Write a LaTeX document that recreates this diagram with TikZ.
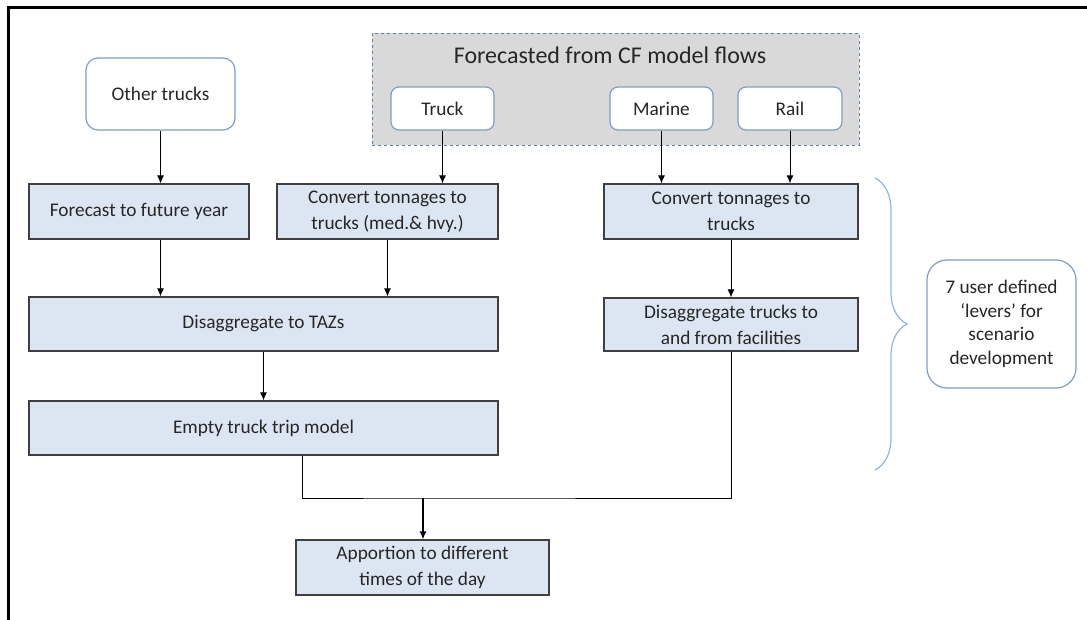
\documentclass[tikz,border=0pt]{standalone}
\usepackage{fontspec}
\setmainfont{Carlito}
\usepackage{xcolor}
\usepackage{tikz}
\usetikzlibrary{arrows, arrows.meta, positioning, decorations.pathreplacing}
\definecolor{boxblue}{HTML}{DCE6F2}
\definecolor{edgeblue}{HTML}{7F9DC5}
\definecolor{panelgray}{HTML}{D9D9D9}
\definecolor{dashblue}{HTML}{5A7FAE}
\definecolor{braceblue}{HTML}{8EB4E3}
\definecolor{inkdark}{HTML}{262626}
\tikzset{
  stepbox/.style={draw=black!75, line width=1.2pt, fill=boxblue, text=inkdark, align=center, inner sep=0pt, font=\fontsize{19.3}{26}\selectfont},
  srcbox/.style={draw=edgeblue, line width=1.2pt, fill=white, text=inkdark, rounded corners=8pt, align=center, inner sep=0pt, font=\fontsize{19.3}{23.5}\selectfont},
  flow/.style={->, line width=1pt, black}
}
\begin{document}
\begin{tikzpicture}[x=1pt, y=-1pt, >={Latex[length=8pt, width=7pt]}]
        \useasboundingbox (0,0) rectangle (1087,620);
        \draw [line width=3pt] (8.5,620) -- (8.5,7.5) -- (1087,7.5);

        % inputs
        \node (panel) [draw=dashblue, dashed, fill=panelgray, minimum width=487pt, minimum height=112pt, inner sep=0pt] at (615.5,89) {};
        \node (title) [text=inkdark, font=\fontsize{24}{28}\selectfont] at (610,55) {Forecasted from CF model flows};
        \node (truck) [srcbox, minimum width=103pt, minimum height=43pt] at (442.5,108.5) {Truck};
        \node (marine) [srcbox, minimum width=103pt, minimum height=43pt] at (661.5,108.5) {Marine};
        \node (rail) [srcbox, minimum width=104pt, minimum height=43pt] at (790,108.5) {Rail};
        \node (other) [srcbox, rounded corners=12pt, minimum width=149pt, minimum height=72pt] at (160.5,94) {Other trucks};

        % steps
        \node (fyear) [stepbox, minimum width=220pt, minimum height=55pt] at (139,211.5) {Forecast to future year};
        \node (convmh) [stepbox, minimum width=221pt, minimum height=55pt] at (387.5,211.5) {Convert tonnages to\\trucks (med.\& hvy.)};
        \node (convt) [stepbox, minimum width=254pt, minimum height=55pt] at (731,211.5) {Convert tonnages to\\trucks};
        \node (taz) [stepbox, minimum width=469pt, minimum height=54pt] at (263.5,324) {Disaggregate to TAZs};
        \node (fac) [stepbox, minimum width=254pt, minimum height=53pt] at (731,324.5) {Disaggregate trucks to\\and from facilities};
        \node (empty) [stepbox, minimum width=469pt, minimum height=54pt] at (263.5,428) {Empty truck trip model};
        \node (tod) [stepbox, minimum width=253pt, minimum height=55pt] at (422.5,567.5) {Apportion to different\\times of the day};
        \node (levers) [srcbox, rounded corners=20pt, minimum width=149pt, minimum height=128pt] at (1001.5,324) {7 user defined\\‘levers’ for\\scenario\\development};
        \coordinate (join) at (423,498);

        \draw [flow] (other) -- (other |- fyear.north);
        \draw [flow] (truck) -- (truck |- convmh.north);
        \draw [flow] (marine) -- (marine |- convt.north);
        \draw [flow] (rail) -- (rail |- convt.north);
        \draw [flow] (other |- fyear.south) -- (other |- taz.north);
        \draw [flow] (convmh) -- (convmh |- taz.north);
        \draw [flow] (convt) -- (fac);
        \draw [flow] (taz) -- (empty);
        \draw [line width=1pt] ([xshift=38.5pt]empty.south) |- (join) -| (fac.south);
        \draw [flow, line width=1.4pt] (join) -- (join |- tod.north);

        \draw [braceblue, line width=1.2pt, decorate, decoration={brace, amplitude=32pt}] (875,178) -- (875,470);
    \end{tikzpicture}
\end{document}
